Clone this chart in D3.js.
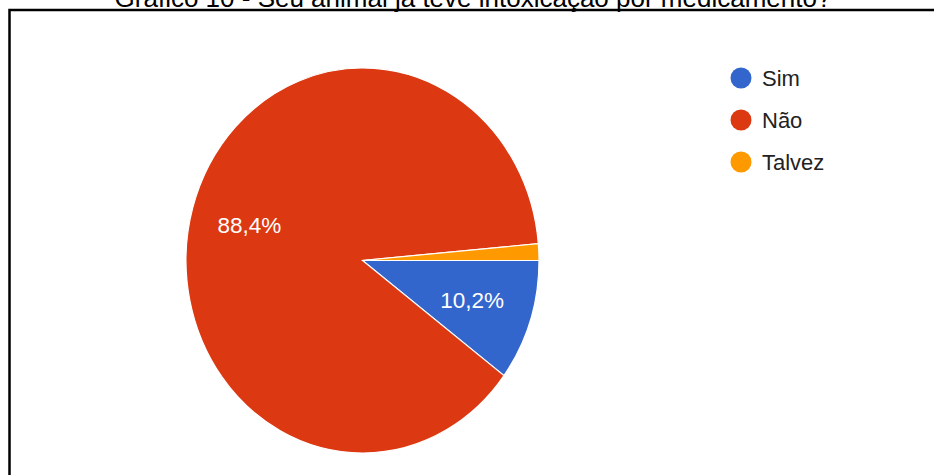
<!DOCTYPE html>
<html lang="pt">
<head>
<meta charset="utf-8">
<script src="https://cdn.jsdelivr.net/npm/d3@7"></script>
<style>
  html, body { margin: 0; padding: 0; background: #ffffff; }
  svg { display: block; }
</style>
</head>
<body>
<svg id="chart" width="934" height="475"></svg>
<script>
// Survey answers and their shares (%)
const categories = ["Sim", "Não", "Talvez"];
const shares = [10.2, 88.4, 1.4];
const colors = ["#3366CC", "#DC3912", "#FF9900"];
const title = "Gráfico 10 - Seu animal já teve intoxicação por medicamento?";

const svg = d3.select("#chart");
const W = 934, H = 475;
const font = "'Liberation Sans', Arial, sans-serif";

// Caption above the frame
svg.append("text")
  .attr("x", 473)
  .attr("y", 6.5)
  .attr("text-anchor", "middle")
  .style("font-family", font)
  .style("font-size", "26px")
  .attr("fill", "#000")
  .text(title);

// Frame (top and left edges)
svg.append("path")
  .attr("d", `M9.5,${H} L9.5,10 L${W},10`)
  .attr("fill", "none")
  .attr("stroke", "#000")
  .attr("stroke-width", 2.5);

// Pie, drawn on a circle and stretched vertically into the displayed ellipse
const cx = 362.5, cy = 260.5, rx = 176.5, ry = 192.5;
const data = categories.map((c, i) => ({ name: c, value: shares[i], color: colors[i] }));

const pie = d3.pie()
  .value(d => d.value)
  .sort(null)
  .startAngle(Math.PI / 2)
  .endAngle(Math.PI / 2 + 2 * Math.PI);

const arcs = pie(data);
const arc = d3.arc().innerRadius(0).outerRadius(rx);
const labelArc = d3.arc().innerRadius(rx * 0.66).outerRadius(rx * 0.66);

const g = svg.append("g")
  .attr("transform", `translate(${cx},${cy}) scale(1,${ry / rx})`);

g.selectAll("path.slice")
  .data(arcs)
  .join("path")
  .attr("class", "slice")
  .attr("d", arc)
  .attr("fill", d => d.data.color)
  .attr("stroke", "#ffffff")
  .attr("stroke-width", 1.2)
  .attr("vector-effect", "non-scaling-stroke");

// Percentage labels on slices large enough to hold them
const fmt = v => d3.format(".1f")(v).replace(".", ",") + "%";
svg.append("g")
  .selectAll("text")
  .data(arcs.filter(d => d.data.value >= 5))
  .join("text")
  .attr("x", d => cx + labelArc.centroid(d)[0] - 1)
  .attr("y", d => cy + labelArc.centroid(d)[1] * ry / rx)
  .attr("text-anchor", "middle")
  .attr("dominant-baseline", "central")
  .style("font-family", font)
  .style("font-size", "22.5px")
  .attr("fill", "#ffffff")
  .text(d => fmt(d.data.value));

// Legend
const legendY = d3.scalePoint().domain(categories).range([78, 162]);
const legend = svg.append("g")
  .selectAll("g")
  .data(data)
  .join("g")
  .attr("transform", d => `translate(741,${legendY(d.name)})`);

legend.append("circle")
  .attr("r", 10.5)
  .attr("fill", d => d.color);

legend.append("text")
  .attr("x", 21)
  .attr("y", 0)
  .attr("dominant-baseline", "central")
  .style("font-family", font)
  .style("font-size", "22px")
  .attr("fill", "#222222")
  .text(d => d.name);
</script>
</body>
</html>
